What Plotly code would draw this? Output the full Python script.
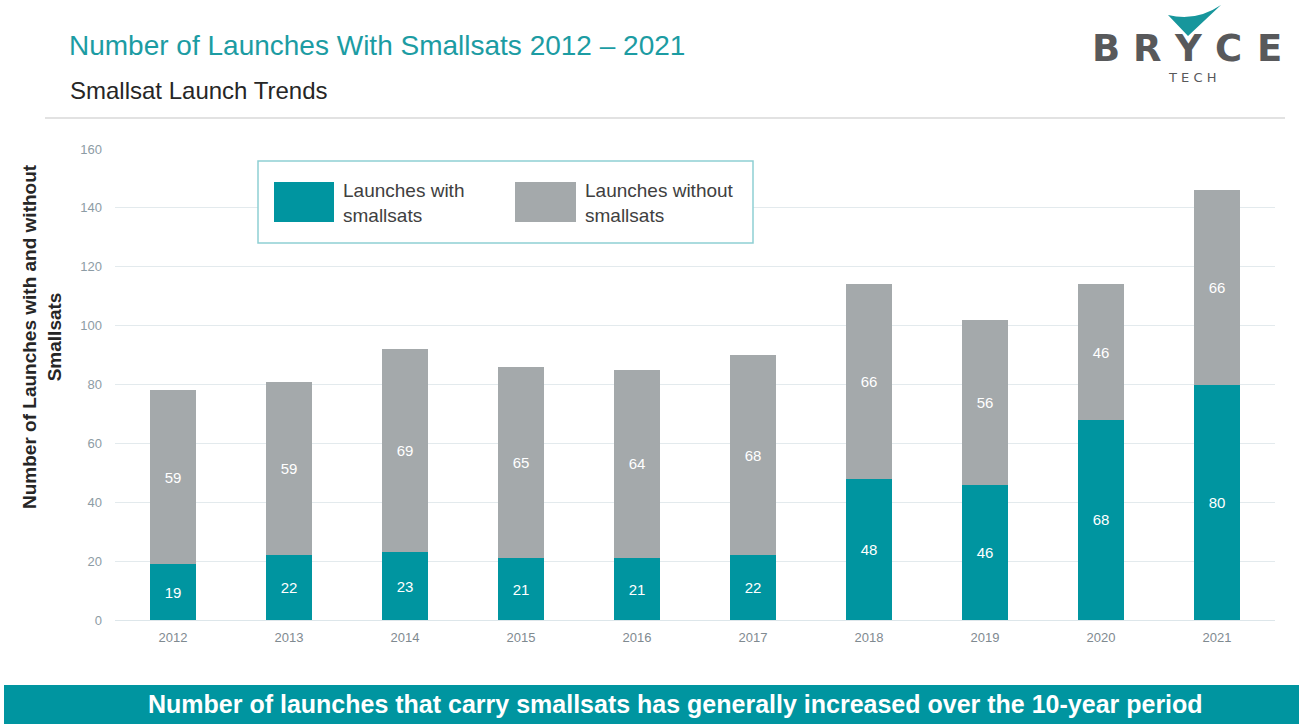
import plotly.graph_objects as go

# Launch counts per year
years = ["2012", "2013", "2014", "2015", "2016", "2017", "2018", "2019", "2020", "2021"]
with_smallsats = [19, 22, 23, 21, 21, 22, 48, 46, 68, 80]
without_smallsats = [59, 59, 69, 65, 64, 68, 66, 56, 46, 66]

TEAL = "#0095a0"
GREY = "#a4a9ab"
TITLE_TEAL = "#1c9ca3"
FONT = "Liberation Sans, Arial"

W, H = 1299, 724
L, R, T, B = 115, 24, 149, 104
PW, PH = W - L - R, H - T - B


def px(x):
    return (x - L) / PW


def py(y):
    return (H - B - y) / PH


fig = go.Figure()
fig.add_trace(go.Bar(
    x=years, y=with_smallsats, name="Launches with smallsats",
    marker=dict(color=TEAL, line=dict(width=0)),
    text=with_smallsats, textposition="inside", insidetextanchor="middle",
    textfont=dict(color="white", size=15, family=FONT),
    showlegend=False,
))
fig.add_trace(go.Bar(
    x=years, y=without_smallsats, name="Launches without smallsats",
    marker=dict(color=GREY, line=dict(width=0)),
    text=without_smallsats, textposition="inside", insidetextanchor="middle",
    textfont=dict(color="white", size=15, family=FONT),
    showlegend=False,
))

shapes = []
annotations = []

# separator under subtitle
shapes.append(dict(type="line", xref="paper", yref="paper",
                   x0=px(45), x1=px(1285), y0=py(118), y1=py(118),
                   line=dict(color="#e2e2e2", width=2)))

# legend box
shapes.append(dict(type="rect", xref="paper", yref="paper",
                   x0=px(258), x1=px(753), y0=py(161), y1=py(243),
                   line=dict(color="#8fcfd3", width=1.5), fillcolor="white", layer="above"))
shapes.append(dict(type="rect", xref="paper", yref="paper",
                   x0=px(274), x1=px(334), y0=py(182), y1=py(222),
                   line=dict(width=0), fillcolor=TEAL, layer="above"))
shapes.append(dict(type="rect", xref="paper", yref="paper",
                   x0=px(515), x1=px(576), y0=py(182), y1=py(222),
                   line=dict(width=0), fillcolor=GREY, layer="above"))
for x0, label in [(341, "Launches with<br>smallsats"), (583, "Launches without<br>smallsats")]:
    annotations.append(dict(xref="paper", yref="paper", x=px(x0), y=py(203),
                            xanchor="left", yanchor="middle", align="left",
                            text=label, showarrow=False,
                            font=dict(size=19, color="#404040", family=FONT)))

# bottom banner
shapes.append(dict(type="rect", xref="paper", yref="paper",
                   x0=px(4), x1=px(1299), y0=py(685), y1=py(724),
                   line=dict(width=0), fillcolor=TEAL))
annotations.append(dict(xref="paper", yref="paper", x=px(675), y=py(704),
                        xanchor="center", yanchor="middle", showarrow=False,
                        text="<b>Number of launches that carry smallsats has generally increased over the 10-year period</b>",
                        font=dict(size=25, color="white", family=FONT)))

# titles
annotations.append(dict(xref="paper", yref="paper", x=px(67), y=py(45),
                        xanchor="left", yanchor="middle", showarrow=False,
                        text="Number of Launches With Smallsats 2012 – 2021",
                        font=dict(size=28, color=TITLE_TEAL, family=FONT)))
annotations.append(dict(xref="paper", yref="paper", x=px(68), y=py(90),
                        xanchor="left", yanchor="middle", showarrow=False,
                        text="Smallsat Launch Trends",
                        font=dict(size=24, color="#262626", family=FONT)))

# y-axis title
annotations.append(dict(xref="paper", yref="paper", x=px(42), y=py(337),
                        xanchor="center", yanchor="middle", showarrow=False,
                        textangle=-90, align="center",
                        text="<b>Number of Launches with and without<br>Smallsats</b>",
                        font=dict(size=19, color="#262626", family=FONT)))

# logo
shapes.append(dict(type="path", xref="paper", yref="paper",
                   path=(f"M{px(1168)},{py(15)} Q{px(1196)},{py(22)} {px(1221)},{py(5)} "
                         f"L{px(1188)},{py(36)} Z"),
                   line=dict(width=0), fillcolor="#17969c"))
for cx, letter in zip([1106, 1147, 1188, 1228, 1269], "BRYCE"):
    annotations.append(dict(xref="paper", yref="paper", x=px(cx), y=py(48),
                            xanchor="center", yanchor="middle", showarrow=False,
                            text=f"<b>{letter}</b>",
                            font=dict(size=37, color="#58595b", family="DejaVu Sans, Verdana")))
annotations.append(dict(xref="paper", yref="paper", x=px(1192), y=py(77),
                        xanchor="center", yanchor="middle", showarrow=False,
                        text="T E C H",
                        font=dict(size=13, color="#58595b", family="DejaVu Sans, Verdana")))

fig.update_layout(
    width=W, height=H,
    margin=dict(l=L, r=R, t=T, b=B),
    barmode="stack", bargap=0.6,
    plot_bgcolor="white", paper_bgcolor="white",
    font=dict(family=FONT),
    shapes=shapes, annotations=annotations,
    uniformtext=dict(minsize=8, mode="show"),
    xaxis=dict(showgrid=False, showline=False, ticks="",
               tickfont=dict(size=13, color="#7f8a90"), ticklabelstandoff=8),
    yaxis=dict(range=[0, 160], dtick=20, showline=False, zeroline=True,
               zerolinecolor="#dde6ea", zerolinewidth=1,
               gridcolor="#e3eaed", gridwidth=1,
               tickfont=dict(size=13, color="#8d9ca5"), ticklabelstandoff=12),
)

fig.write_html("out.html")
